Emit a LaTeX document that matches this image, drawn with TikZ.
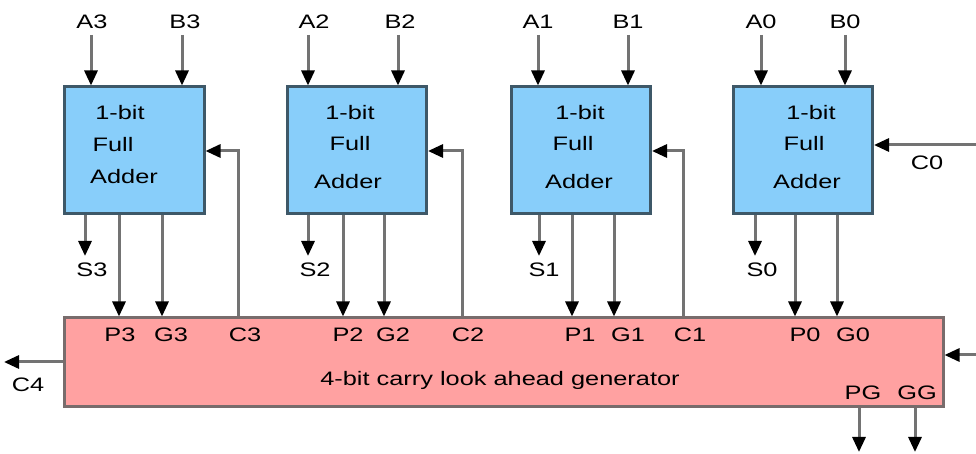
\documentclass[tikz,border=0pt]{standalone}
\usepackage{fontspec}
\setmainfont{Liberation Sans}[FakeStretch=1.3]
\usetikzlibrary{arrows.meta}
\definecolor{faFill}{RGB}{136,206,250}
\definecolor{faEdge}{RGB}{62,88,104}
\definecolor{genFill}{RGB}{255,161,161}
\definecolor{genEdge}{RGB}{120,108,108}
\definecolor{wire}{RGB}{115,115,115}
\begin{document}
\begin{tikzpicture}[x=1bp,y=-1bp,
  every node/.style={font=\fontsize{19.5bp}{22bp}\selectfont, inner sep=0pt},
  adder/.style={rectangle, fill=faFill, draw=faEdge, line width=3bp,
                minimum width=139bp, minimum height=127bp},
  gen/.style={rectangle, fill=genFill, draw=genEdge, line width=3bp,
              minimum width=878bp, minimum height=88bp},
  sig/.style={draw=wire, line width=3bp,
              -{Triangle[length=15bp,width=13bp,color=black]}},
]
\useasboundingbox (0,0) rectangle (976,454);

% ---------- blocks ----------
\node[adder] (fa3) at (134.5,150.5) {};
\node[adder] (fa2) at (357,150.5) {};
\node[adder] (fa1) at (581,150.5) {};
\node[adder] (fa0) at (803,150.5) {};
\node[gen]   (cla) at (504,362) {};

% ---------- adder captions ----------
\node (fa3t1) at (120,113) {1-bit};
\node (fa3t2) at (113,145) {Full};
\node (fa3t3) at (124,177) {Adder};
\node (fa2t1) at (350,113) {1-bit};
\node (fa2t2) at (350,144) {Full};
\node (fa2t3) at (348,182) {Adder};
\node (fa1t1) at (580,113) {1-bit};
\node (fa1t2) at (573,144) {Full};
\node (fa1t3) at (579,182) {Adder};
\node (fa0t1) at (811,113) {1-bit};
\node (fa0t2) at (804,144) {Full};
\node (fa0t3) at (807,182) {Adder};

% ---------- operand inputs ----------
\node (A3) at (92,22) {A3};   \coordinate (a3) at (91,35);
\node (B3) at (185,22) {B3};  \coordinate (b3) at (182,35);
\node (A2) at (314,22) {A2};  \coordinate (a2) at (308,35);
\node (B2) at (400,22) {B2};  \coordinate (b2) at (398,35);
\node (A1) at (538,22) {A1};  \coordinate (a1) at (538,35);
\node (B1) at (628,22) {B1};  \coordinate (b1) at (628,35);
\node (A0) at (761,22) {A0};  \coordinate (a0) at (761,35);
\node (B0) at (845,22) {B0};  \coordinate (b0) at (845,35);
\foreach \w/\f in {a3/fa3,b3/fa3,a2/fa2,b2/fa2,a1/fa1,b1/fa1,a0/fa0,b0/fa0}
  \draw[sig] (\w) -- (\w |- \f.north);

% ---------- sum outputs ----------
\coordinate (s3) at (85,256);  \node (S3) at (92,270) {S3};
\coordinate (s2) at (308,256); \node (S2) at (315,270) {S2};
\coordinate (s1) at (539,256); \node (S1) at (544,270) {S1};
\coordinate (s0) at (755,256); \node (S0) at (762,270) {S0};
\foreach \w/\f in {s3/fa3,s2/fa2,s1/fa1,s0/fa0}
  \draw[sig] (\w |- \f.south) -- (\w);

% ---------- propagate / generate into the generator ----------
\coordinate (p3) at (119,0); \coordinate (g3) at (162,0);
\coordinate (p2) at (343,0); \coordinate (g2) at (384,0);
\coordinate (p1) at (572,0); \coordinate (g1) at (614,0);
\coordinate (p0) at (795,0); \coordinate (g0) at (837,0);
\foreach \w/\f in {p3/fa3,g3/fa3,p2/fa2,g2/fa2,p1/fa1,g1/fa1,p0/fa0,g0/fa0}
  \draw[sig] (\w |- \f.south) -- (\w |- cla.north);

% ---------- carries back into the adders ----------
\coordinate (c3) at (238,151);
\coordinate (c2) at (462,151);
\coordinate (c1) at (683,151);
\foreach \w/\f in {c3/fa3,c2/fa2,c1/fa1}
  \draw[sig] (\w |- cla.north) -- (\w) -- (\w -| \f.east);

\coordinate (c0in) at (976,145);
\draw[sig] (c0in) -- (c0in -| fa0.east);
\node (C0) at (927,163) {C0};

% ---------- generator pins ----------
\node (P3l) at (120,335) {P3};
\node (G3l) at (171,335) {G3};
\node (C3l) at (245,335) {C3};
\node (P2l) at (348,335) {P2};
\node (G2l) at (393,335) {G2};
\node (C2l) at (468,335) {C2};
\node (P1l) at (580,335) {P1};
\node (G1l) at (628,335) {G1};
\node (C1l) at (690,335) {C1};
\node (P0l) at (805,335) {P0};
\node (G0l) at (853,335) {G0};
\node (PGl) at (863,393) {PG};
\node (GGl) at (917,393) {GG};
\node (title) at (500,380) {4-bit carry look ahead generator};

% ---------- generator side connections ----------
\coordinate (cin) at (976,355);
\draw[sig] (cin) -- (cin -| cla.east);

\coordinate (c4) at (4,362);
\draw[sig] (c4 -| cla.west) -- (c4);
\node (C4) at (28,385) {C4};

\coordinate (pg) at (859,452);
\coordinate (gg) at (915,452);
\draw[sig] (pg |- cla.south) -- (pg);
\draw[sig] (gg |- cla.south) -- (gg);
\end{tikzpicture}
\end{document}
